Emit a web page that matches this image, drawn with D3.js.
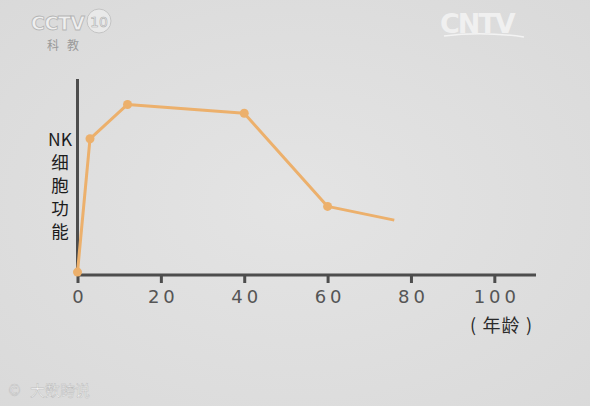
<!DOCTYPE html>
<html>
<head>
<meta charset="utf-8">
<script src="https://cdn.jsdelivr.net/npm/d3@7"></script>
<style>
  html, body { margin: 0; padding: 0; background: #e1e1e1; }
  svg { display: block; font-family: "DejaVu Sans", "Noto Sans CJK SC", sans-serif; }
</style>
</head>
<body>
<svg id="chart" width="590" height="406"></svg>
<script>
const svg = d3.select("#chart");

// data
const ages = [0, 3, 12, 40, 60, 76];
const nkFunction = [1.5, 69.5, 87, 82.5, 35, 28];
const markedPoints = [0, 1, 2, 3, 4]; // the last point has no dot
const xTicks = [0, 20, 40, 60, 80, 100];
const yLabel = ["NK", "细", "胞", "功", "能"];
const xLabel = "( 年龄 )";

const x = d3.scaleLinear().domain([0, 110]).range([77.5, 536]);
const y = d3.scaleLinear().domain([0, 100]).range([275, 79]);

// background with soft vignette
const defs = svg.append("defs");
const grad = defs.append("radialGradient").attr("id", "bg").attr("cx", "50%").attr("cy", "50%").attr("r", "75%");
grad.append("stop").attr("offset", "0%").attr("stop-color", "#e4e4e4");
grad.append("stop").attr("offset", "100%").attr("stop-color", "#d9d9d9");
svg.append("rect").attr("width", 590).attr("height", 406).attr("fill", "url(#bg)");

// watermarks
svg.append("text").attr("x", 31).attr("y", 30).attr("font-size", 19).attr("font-weight", "bold")
  .attr("letter-spacing", -0.5)
  .attr("fill", "#efefef").attr("stroke", "#b5b5b5").attr("stroke-width", 0.8)
  .text("CCTV");
svg.append("circle").attr("cx", 99).attr("cy", 21).attr("r", 12).attr("fill", "#e9e9e9").attr("stroke", "#c4c4c4");
svg.append("text").attr("x", 99).attr("y", 27).attr("text-anchor", "middle").attr("font-size", 14)
  .attr("fill", "#f2f2f2").attr("stroke", "#b0b0b0").attr("stroke-width", 0.6).text("10");
svg.append("text").attr("x", 47).attr("y", 50).attr("font-size", 12).attr("fill", "#9a9a9a")
  .attr("letter-spacing", 8).text("科教");
svg.append("text").attr("x", 440).attr("y", 33).attr("font-size", 27).attr("font-weight", "bold")
  .attr("fill", "#f3f3f3").attr("letter-spacing", -2).attr("opacity", 0.9).text("CNTV");
svg.append("path").attr("d", "M444,36 Q482,31 524,37").attr("fill", "none").attr("stroke", "#f3f3f3").attr("stroke-width", 1.5);
svg.append("text").attr("x", 30).attr("y", 396).attr("font-size", 15).attr("fill", "#f7f7f7")
  .attr("stroke", "#bdbdbd").attr("stroke-width", 0.5).text("大数跨说");
svg.append("text").attr("x", 7).attr("y", 396).attr("font-size", 15).attr("fill", "#f7f7f7")
  .attr("stroke", "#bdbdbd").attr("stroke-width", 0.5).text("©");

// axes
const axisColor = "#4d4d4d";
const xAxis = svg.append("g").attr("transform", `translate(0,${y(0)})`)
  .call(d3.axisBottom(x).tickValues(xTicks).tickSize(8).tickPadding(7).tickFormat(d3.format("d")));
xAxis.select(".domain").attr("stroke", axisColor).attr("stroke-width", 3).attr("d", `M${x(0)},0H${x(110)}`);
xAxis.selectAll(".tick line").attr("stroke", axisColor).attr("stroke-width", 3);
xAxis.selectAll(".tick text").attr("fill", "#555").attr("font-size", 18).attr("letter-spacing", 4)
  .attr("font-family", "DejaVu Sans, sans-serif").attr("dx", 2);

svg.append("line").attr("x1", x(0)).attr("x2", x(0)).attr("y1", 79).attr("y2", y(0))
  .attr("stroke", axisColor).attr("stroke-width", 3);

// y label, stacked vertically
svg.append("g").selectAll("text").data(yLabel).join("text")
  .attr("x", 60).attr("y", (d, i) => 146 + i * 23)
  .attr("text-anchor", "middle").attr("font-size", 17.5).attr("fill", "#1c1c1c")
  .attr("font-family", "Noto Sans CJK SC, sans-serif")
  .text(d => d);

svg.append("text").attr("x", 501).attr("y", 332).attr("text-anchor", "middle")
  .attr("font-size", 18).attr("fill", "#2a2a2a").attr("font-family", "Noto Sans CJK SC, sans-serif")
  .attr("textLength", 62).attr("lengthAdjust", "spacing")
  .text(xLabel);

// line + dots
const lineColor = "#ecb06c";
const line = d3.line().x((d, i) => x(ages[i])).y(d => y(d));
svg.append("path").datum(nkFunction).attr("d", line).attr("fill", "none")
  .attr("stroke", lineColor).attr("stroke-width", 3).attr("stroke-linejoin", "round");
svg.append("g").selectAll("circle").data(markedPoints).join("circle")
  .attr("cx", i => x(ages[i])).attr("cy", i => y(nkFunction[i])).attr("r", 4.5).attr("fill", lineColor);
</script>
</body>
</html>
